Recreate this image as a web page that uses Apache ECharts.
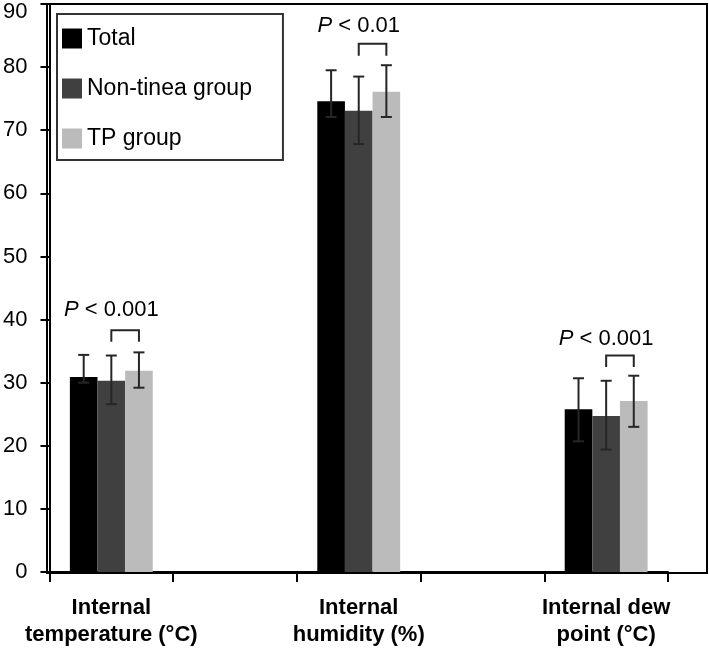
<!DOCTYPE html>
<html>
<head>
<meta charset="utf-8">
<script src="https://cdn.jsdelivr.net/npm/echarts@6/dist/echarts.min.js"></script>
<style>
html,body{margin:0;padding:0;background:#fff;}
#chart{width:709px;height:648px;}
</style>
</head>
<body>
<div id="chart"></div>
<script>
// ---- data ----
var categories = ['Internal\ntemperature (°C)', '', 'Internal\nhumidity (%)', '', 'Internal dew\npoint (°C)'];
var seriesNames = ['Total', 'Non-tinea group', 'TP group'];
var totalValues = [30.9, null, 74.6, null, 25.8];
var nonTineaValues = [30.3, null, 73.1, null, 24.7];
var tpValues = [31.9, null, 76.1, null, 27.1];
var totalLow = [30.0, null, 72.1, null, 20.7];
var totalHigh = [34.4, null, 79.5, null, 30.7];
var nonTineaLow = [26.6, null, 67.8, null, 19.4];
var nonTineaHigh = [34.3, null, 78.5, null, 30.3];
var tpLow = [29.2, null, 72.1, null, 23.0];
var tpHigh = [34.8, null, 80.3, null, 31.1];
var pLabels = ['< 0.001', null, '< 0.01', null, '< 0.001'];
var bracketTop = [38.3, null, 83.7, null, 34.3];
var bracketEnd = [36.5, null, 81.8, null, 32.5];
var pTextY = [41.6, null, 86.5, null, 37.0];
var yTicks = [0, 10, 20, 30, 40, 50, 60, 70, 80, 90];

var FONT = "'Liberation Sans', Arial, Helvetica, sans-serif";
var colors = ['#000000', '#404040', '#bbbbbb'];
var CAT_GAP = 0.33;

var lows = [totalLow, nonTineaLow, tpLow];
var highs = [totalHigh, nonTineaHigh, tpHigh];
var errData = [];
for (var s = 0; s < 3; s++) {
  for (var c = 0; c < categories.length; c++) {
    if (lows[s][c] != null) errData.push([c, s, lows[s][c], highs[s][c]]);
  }
}
var bracketData = [];
for (var c2 = 0; c2 < categories.length; c2++) {
  if (pLabels[c2] != null) bracketData.push([c2, bracketTop[c2], bracketEnd[c2], pTextY[c2], pLabels[c2]]);
}

function barWidthOf(api) {
  return api.size([1, 0])[0] * (1 - CAT_GAP) / 3;
}

var chart = echarts.init(document.getElementById('chart'), null, {renderer: 'canvas'});
chart.setOption({
  animation: false,
  backgroundColor: '#fff',
  textStyle: {fontFamily: FONT},
  color: colors,
  legend: {
    data: seriesNames,
    orient: 'vertical',
    left: 57,
    top: 14,
    itemWidth: 20,
    itemHeight: 20,
    itemGap: 27,
    icon: 'rect',
    padding: [13, 31, 10, 5],
    borderColor: '#333',
    borderWidth: 2,
    textStyle: {fontSize: 23, color: '#000', fontFamily: FONT}
  },
  grid: [
    {left: 47, right: 41, top: 4, bottom: 75, containLabel: false},
    {left: 47, right: 2, top: 4, bottom: 75, show: true, borderColor: '#000', borderWidth: 2, backgroundColor: 'transparent'}
  ],
  xAxis: [
    {
      type: 'category',
      gridIndex: 0,
      data: categories,
      axisLine: {lineStyle: {color: '#000', width: 2}},
      axisTick: {show: true, length: 10, lineStyle: {color: '#000', width: 2}},
      axisLabel: {
        interval: 0,
        color: '#000',
        fontSize: 22,
        fontWeight: 'bold',
        lineHeight: 27,
        margin: 22,
        fontFamily: FONT
      }
    },
    {type: 'value', gridIndex: 1, show: false, min: 0, max: 1}
  ],
  yAxis: [
    {
      type: 'value',
      gridIndex: 0,
      min: 0,
      max: 90,
      interval: 10,
      axisLine: {show: true, lineStyle: {color: '#000', width: 2}},
      axisTick: {show: true, length: 9, lineStyle: {color: '#000', width: 2}},
      splitLine: {show: false},
      axisLabel: {
        color: '#000',
        fontSize: 22,
        margin: 22,
        fontFamily: FONT,
        formatter: function (v) {
          return v === yTicks[yTicks.length - 1] ? '{t|' + v + '}' : '' + v;
        },
        rich: {t: {fontSize: 22, color: '#000', fontFamily: FONT, padding: [16, 0, 0, 0]}}
      }
    },
    {type: 'value', gridIndex: 1, show: false, min: 0, max: 1}
  ],
  series: [
    {name: seriesNames[0], type: 'bar', data: totalValues, barGap: '0%', barCategoryGap: '33%', itemStyle: {color: colors[0]}},
    {name: seriesNames[1], type: 'bar', data: nonTineaValues, barGap: '0%', barCategoryGap: '33%', itemStyle: {color: colors[1]}},
    {name: seriesNames[2], type: 'bar', data: tpValues, barGap: '0%', barCategoryGap: '33%', itemStyle: {color: colors[2]}},
    {
      type: 'custom',
      z: 5,
      data: errData,
      encode: {x: 0, y: [2, 3]},
      renderItem: function (params, api) {
        var c = api.value(0), s = api.value(1);
        var bw = barWidthOf(api);
        var cx = api.coord([c, 0])[0] + (s - 1) * bw;
        var yLo = api.coord([c, api.value(2)])[1];
        var yHi = api.coord([c, api.value(3)])[1];
        var cap = 5.5;
        var st = {stroke: '#262626', lineWidth: 2, fill: null};
        return {
          type: 'group',
          children: [
            {type: 'line', shape: {x1: cx, y1: yLo, x2: cx, y2: yHi}, style: st},
            {type: 'line', shape: {x1: cx - cap, y1: yHi, x2: cx + cap, y2: yHi}, style: st},
            {type: 'line', shape: {x1: cx - cap, y1: yLo, x2: cx + cap, y2: yLo}, style: st}
          ]
        };
      }
    },
    {
      type: 'custom',
      z: 5,
      data: bracketData,
      encode: {x: 0, y: [1, 2, 3]},
      renderItem: function (params, api) {
        var c = api.value(0);
        var bw = barWidthOf(api);
        var cx = api.coord([c, 0])[0];
        var yTop = api.coord([c, api.value(1)])[1];
        var yEnd = api.coord([c, api.value(2)])[1];
        var yTxt = api.coord([c, api.value(3)])[1];
        var label = bracketData[params.dataIndex][4];
        return {
          type: 'group',
          children: [
            {
              type: 'polyline',
              shape: {points: [[cx, yEnd], [cx, yTop], [cx + bw, yTop], [cx + bw, yEnd]]},
              style: {stroke: '#262626', lineWidth: 2, fill: null}
            },
            {
              type: 'text',
              x: cx,
              y: yTxt,
              style: {
                text: '{i|P} ' + label,
                align: 'center',
                verticalAlign: 'middle',
                fontSize: 22,
                fontFamily: FONT,
                fill: '#000',
                rich: {i: {fontStyle: 'italic', fontSize: 22, fontFamily: FONT, fill: '#000'}}
              }
            }
          ]
        };
      }
    }
  ]
});
</script>
</body>
</html>
